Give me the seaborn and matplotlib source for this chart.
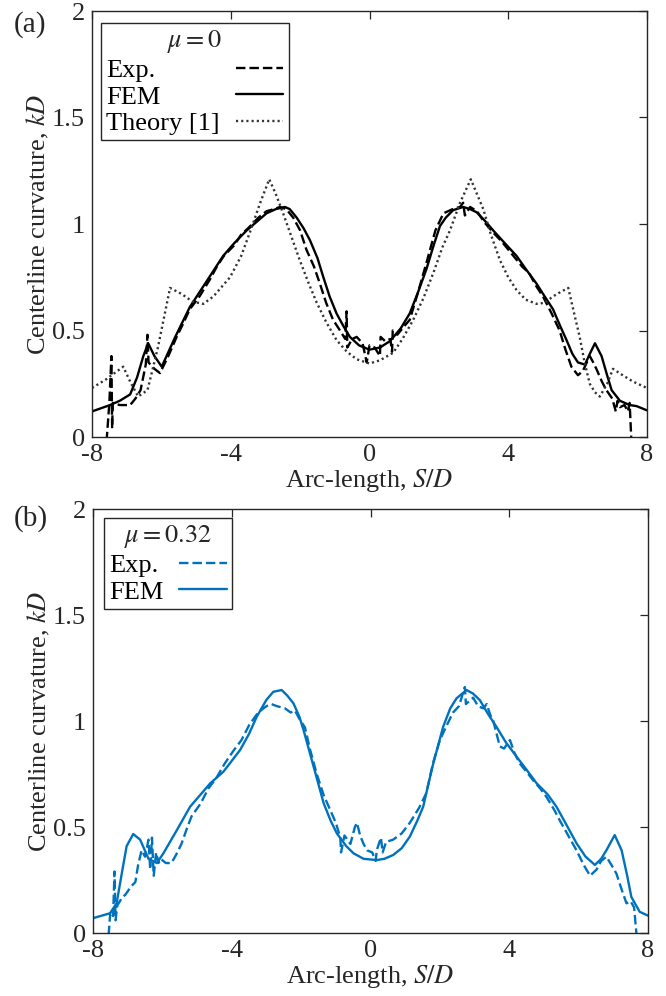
import numpy as np
import pandas as pd
import matplotlib
matplotlib.use("Agg")
import matplotlib.pyplot as plt
import seaborn as sns

# ---------------- data ----------------
x_ticks = [-8, -4, 0, 4, 8]
x_tick_labels = ["-8", "-4", "0", "4", "8"]
y_ticks = [0, 0.5, 1, 1.5, 2]
y_tick_labels = ["0", "0.5", "1", "1.5", "2"]

# (a) mu = 0
s_fem_a = [-8, -7.48, -7.2, -6.9, -6.7, -6.52, -6.38, -6.2, -5.99, -5.6, -5.18, -4.7, -4.22, -3.9, -3.54,
           -2.97, -2.7, -2.44, -2.3, -2.1, -1.9, -1.72, -1.5, -1.33, -1.15, -0.95, -0.75, -0.565, -0.3, 0.0,
           0.3, 0.59, 0.9, 1.16, 1.4, 1.645, 1.85, 2.03, 2.2, 2.41, 2.7, 2.9, 3.09, 3.3, 3.565, 3.9, 4.24,
           4.5, 4.815, 5.05, 5.29, 5.5, 5.68, 5.85, 6.01, 6.21, 6.35, 6.5, 6.69, 6.85, 6.98, 7.22, 7.5, 7.7, 8.0]
k_fem_a = [0.12, 0.15, 0.17, 0.20, 0.28, 0.38, 0.44, 0.38, 0.33, 0.47, 0.61, 0.73, 0.85, 0.91, 0.97,
           1.05, 1.07, 1.08, 1.07, 1.03, 0.98, 0.925, 0.84, 0.75, 0.66, 0.58, 0.52, 0.47, 0.43, 0.41,
           0.42, 0.45, 0.51, 0.58, 0.68, 0.79, 0.90, 0.99, 1.03, 1.065, 1.08, 1.07, 1.055, 1.02, 0.97, 0.91, 0.85,
           0.79, 0.72, 0.66, 0.60, 0.52, 0.455, 0.39, 0.35, 0.34, 0.39, 0.44, 0.38, 0.29, 0.22, 0.17, 0.15, 0.145, 0.125]

s_exp_a = [-7.58, -7.5, -7.44, -7.42, -7.40, -7.2, -6.9, -6.75, -6.6, -6.45, -6.4, -6.37, -6.2, -6.04, -5.8,
           -5.56, -5.35, -5.18, -4.9, -4.6, -4.4, -4.2, -3.9, -3.7, -3.5, -3.2, -2.97, -2.75, -2.58, -2.4,
           -2.2, -2.0, -1.82, -1.6, -1.43, -1.25, -1.05, -0.85, -0.7, -0.66, -0.64, -0.5, -0.37, -0.2, -0.08,
           0.0, 0.15, 0.3, 0.32, 0.45, 0.6, 0.65, 0.67, 0.8, 1.0, 1.16, 1.4, 1.645, 1.9, 2.13, 2.4, 2.61,
           2.7, 2.75, 2.9, 3.1, 3.3, 3.565, 3.8, 4.15, 4.4, 4.6, 4.8, 5.0, 5.25, 5.48, 5.65, 5.82, 6.01,
           6.15, 6.35, 6.45, 6.54, 6.7, 6.83, 7.0, 7.1, 7.15, 7.22, 7.35, 7.45, 7.5, 7.55]
k_exp_a = [-0.02, 0.16, 0.38, 0.04, 0.16, 0.15, 0.15, 0.18, 0.22, 0.34, 0.48, 0.35, 0.32, 0.30, 0.38,
           0.47, 0.54, 0.60, 0.66, 0.74, 0.80, 0.85, 0.90, 0.95, 0.98, 1.03, 1.06, 1.07, 1.08, 1.07,
           1.03, 0.97, 0.88, 0.80, 0.72, 0.63, 0.55, 0.50, 0.46, 0.59, 0.42, 0.46, 0.47, 0.44, 0.35,
           0.43, 0.42, 0.38, 0.47, 0.45, 0.46, 0.40, 0.50, 0.48, 0.52, 0.55, 0.68, 0.82, 0.97, 1.05, 1.07, 1.08,
           1.10, 1.04, 1.08, 1.06, 1.01, 0.96, 0.92, 0.85, 0.80, 0.77, 0.71, 0.66, 0.58, 0.50, 0.41, 0.33, 0.29,
           0.31, 0.38, 0.35, 0.32, 0.26, 0.22, 0.18, 0.12, 0.17, 0.14, 0.15, 0.12, 0.16, -0.02]

s_theory = [-8, -7.6, -7.1, -6.9, -6.67, -6.4, -6.1, -5.75, -5.4, -5.1, -4.79, -4.5, -4.02, -3.7, -3.45,
            -3.15, -2.89, -2.7, -2.49, -2.25, -2.01, -1.75, -1.52, -1.25, -0.95, -0.65, -0.37, 0.0, 0.3,
            0.68, 0.95, 1.26, 1.55, 1.84, 2.1, 2.32, 2.61, 2.92, 3.1, 3.28, 3.5, 3.76, 4.0, 4.24, 4.5,
            4.815, 5.05, 5.29, 5.5, 5.73, 5.9, 6.06, 6.2, 6.35, 6.5, 6.64, 6.85, 7.02, 7.3, 7.6, 8.0]
k_theory = [0.23, 0.27, 0.33, 0.26, 0.19, 0.22, 0.42, 0.70, 0.67, 0.635, 0.625, 0.66, 0.75, 0.85, 0.96,
            1.10, 1.21, 1.14, 1.05, 0.94, 0.83, 0.72, 0.63, 0.54, 0.455, 0.40, 0.365, 0.345, 0.36,
            0.395, 0.46, 0.55, 0.65, 0.77, 0.89, 0.97, 1.10, 1.21, 1.14, 1.07, 0.95, 0.83, 0.75, 0.69, 0.645,
            0.625, 0.63, 0.66, 0.68, 0.70, 0.58, 0.47, 0.35, 0.25, 0.21, 0.19, 0.25, 0.32, 0.29, 0.26, 0.23]

# (b) mu = 0.32
s_fem_b = [-8, -7.51, -7.32, -7.15, -7.03, -6.84, -6.64, -6.4, -6.16, -5.97, -5.58, -5.2, -4.62, -4.24, -3.76,
           -3.5, -3.28, -3.0, -2.8, -2.56, -2.4, -2.22, -2.05, -1.93, -1.64, -1.35, -1.15, -0.97, -0.7, -0.49,
           -0.2, 0.18, 0.4, 0.654, 0.9, 1.135, 1.35, 1.52, 1.65, 1.81, 2.095, 2.3, 2.48, 2.77, 2.95, 3.15,
           3.4, 3.63, 3.9, 4.21, 4.5, 4.79, 5.1, 5.36, 5.65, 5.94, 6.2, 6.47, 6.65, 6.8, 7.04, 7.24, 7.4,
           7.52, 7.76, 8.0]
k_fem_b = [0.07, 0.093, 0.14, 0.30, 0.41, 0.467, 0.44, 0.35, 0.33, 0.376, 0.486, 0.596, 0.706, 0.761, 0.863,
           0.94, 1.02, 1.10, 1.138, 1.146, 1.12, 1.083, 1.02, 0.957, 0.785, 0.612, 0.53, 0.47, 0.41, 0.376,
           0.35, 0.344, 0.35, 0.368, 0.40, 0.455, 0.53, 0.596, 0.69, 0.80, 0.973, 1.06, 1.107, 1.146, 1.13, 1.099,
           1.03, 0.973, 0.90, 0.832, 0.77, 0.706, 0.655, 0.596, 0.51, 0.423, 0.36, 0.321, 0.35, 0.39, 0.462, 0.39,
           0.27, 0.17, 0.10, 0.082]

s_exp_b = [-7.55, -7.5, -7.42, -7.38, -7.35, -7.3, -7.15, -7.07, -6.9, -6.78, -6.7, -6.6, -6.5, -6.4, -6.35,
           -6.3, -6.25, -6.18, -6.11, -6.05, -5.9, -5.74, -5.6, -5.45, -5.3, -5.16, -4.9, -4.68, -4.45, -4.2,
           -3.95, -3.72, -3.5, -3.24, -3.0, -2.86, -2.7, -2.47, -2.3, -2.18, -2.05, -1.89, -1.75, -1.55, -1.35,
           -1.16, -1.0, -0.87, -0.85, -0.75, -0.58, -0.45, -0.39, -0.3, -0.2, -0.1, 0.05, 0.15, 0.18, 0.3,
           0.35, 0.45, 0.65, 0.9, 1.135, 1.4, 1.61, 1.8, 2.0, 2.2, 2.38, 2.55, 2.72, 2.75, 2.96, 3.1, 3.25,
           3.35, 3.45, 3.54, 3.65, 3.73, 3.85, 4.02, 4.15, 4.3, 4.5, 4.69, 4.9, 5.08, 5.3, 5.46, 5.7, 5.94,
           6.15, 6.33, 6.52, 6.65, 6.8, 6.95, 7.09, 7.25, 7.38, 7.5, 7.6, 7.67]
k_exp_b = [-0.01, 0.10, 0.08, 0.29, 0.06, 0.13, 0.17, 0.18, 0.22, 0.24, 0.32, 0.39, 0.36, 0.44, 0.30,
           0.45, 0.27, 0.38, 0.33, 0.35, 0.33, 0.33, 0.37, 0.42, 0.49, 0.55, 0.61, 0.68, 0.73, 0.80,
           0.86, 0.91, 0.98, 1.04, 1.07, 1.08, 1.07, 1.06, 1.04, 1.05, 1.01, 0.97, 0.87, 0.75, 0.65,
           0.58, 0.52, 0.45, 0.38, 0.46, 0.42, 0.50, 0.52, 0.46, 0.42, 0.39, 0.38, 0.34, 0.39, 0.45,
           0.38, 0.43, 0.44, 0.47, 0.52, 0.59, 0.66, 0.80, 0.91, 0.98, 1.04, 1.07, 1.16, 1.08, 1.11, 1.07, 1.06,
           1.08, 1.03, 1.00, 0.93, 0.88, 0.87, 0.91, 0.85, 0.80, 0.76, 0.72, 0.68, 0.64, 0.58, 0.53, 0.46, 0.39,
           0.32, 0.27, 0.30, 0.34, 0.36, 0.32, 0.28, 0.20, 0.14, 0.15, 0.12, -0.01]

labels_a = ["Exp.", "FEM", "Theory [1]"]
labels_b = ["Exp.", "FEM"]
title_a = r"$\mu = 0$"
title_b = r"$\mu = 0.32$"

# ---------------- style ----------------
sns.set_theme(style="white")
plt.rcParams["font.family"] = ["Liberation Serif", "DejaVu Serif"]
plt.rcParams["mathtext.fontset"] = "stix"
fs = 19
plt.rcParams["font.size"] = fs
dark = "#262626"
blue = "#0072BD"

fig = plt.figure(figsize=(6.66, 9.96), dpi=100)
ax_a = fig.add_axes([92 / 666, 1 - 437 / 996, 555 / 666, 426 / 996])
ax_b = fig.add_axes([93 / 666, 1 - 933 / 996, 555 / 666, 424 / 996])

lw = 1.7
sns.lineplot(x=s_exp_a, y=k_exp_a, ax=ax_a, estimator=None, sort=False, color="black",
             lw=lw, label=labels_a[0])
sns.lineplot(x=s_fem_a, y=k_fem_a, ax=ax_a, estimator=None, sort=False, color="black",
             lw=lw, label=labels_a[1])
sns.lineplot(x=s_theory, y=k_theory, ax=ax_a, estimator=None, sort=False, color="#333333",
             lw=lw, label=labels_a[2])
ax_a.lines[0].set_dashes((4.0, 1.7))
ax_a.lines[2].set_dashes((0.9, 1.3))

sns.lineplot(x=s_exp_b, y=k_exp_b, ax=ax_b, estimator=None, sort=False, color=blue,
             lw=lw, label=labels_b[0])
sns.lineplot(x=s_fem_b, y=k_fem_b, ax=ax_b, estimator=None, sort=False, color=blue,
             lw=lw, label=labels_b[1])
ax_b.lines[0].set_dashes((4.0, 1.7))

for ax in (ax_a, ax_b):
    ax.set_xlim(-8, 8)
    ax.set_ylim(0, 2)
    ax.set_xticks(x_ticks)
    ax.set_xticklabels(x_tick_labels)
    ax.set_yticks(y_ticks)
    ax.set_yticklabels(y_tick_labels)
    ax.tick_params(direction="in", length=6, width=0.9, top=True, right=True,
                   labelsize=fs, colors=dark)
    ax.tick_params(axis="x", pad=5)
    ax.tick_params(axis="y", pad=5)
    for sp in ax.spines.values():
        sp.set_color(dark)
        sp.set_linewidth(1.0)
        sp.set_visible(True)
    ax.set_xlabel(r"Arc-length, $S/D$", fontsize=fs, color=dark, labelpad=1)
    ax.set_ylabel(r"Centerline curvature, $kD$", fontsize=fs, color=dark, labelpad=1)
    ax.grid(False)
    ax.set_facecolor("white")


def make_legend(ax, title, anchor):
    handles = ax.get_lines()
    labels = [h.get_label() for h in handles]
    leg = ax.legend(handles, labels, title=title, loc="upper left", bbox_to_anchor=anchor,
                    borderaxespad=0, markerfirst=False, frameon=True, fancybox=False,
                    framealpha=1, edgecolor=dark, fontsize=fs, title_fontsize=fs,
                    handlelength=1.8, handletextpad=0.6, labelspacing=0.12,
                    borderpad=0.2)
    leg.get_frame().set_linewidth(1.0)
    for t in leg.get_texts():
        t.set_color("black")
    return leg


leg_a = make_legend(ax_a, title_a, (9 / 555, 1 - 12 / 426))
leg_b = make_legend(ax_b, title_b, (11 / 555, 1 - 9 / 424))

# left-align legend texts, right-align handles
fig.canvas.draw()
r = fig.canvas.get_renderer()
for leg in (leg_a, leg_b):
    col = leg._legend_handle_box.get_children()[0]
    rows = col.get_children()
    widths = [t.get_window_extent(r).width for t in leg.get_texts()]
    maxw = max(widths)
    for row, w in zip(rows, widths):
        row.sep += (maxw - w) * 72 / fig.dpi

fig.text(14 / 666, 1 - 25 / 996, "(a)", fontsize=21, va="center", ha="left", color=dark)
fig.text(14 / 666, 1 - 519 / 996, "(b)", fontsize=21, va="center", ha="left", color=dark)

fig.savefig("out.png", dpi=100, facecolor="white")
